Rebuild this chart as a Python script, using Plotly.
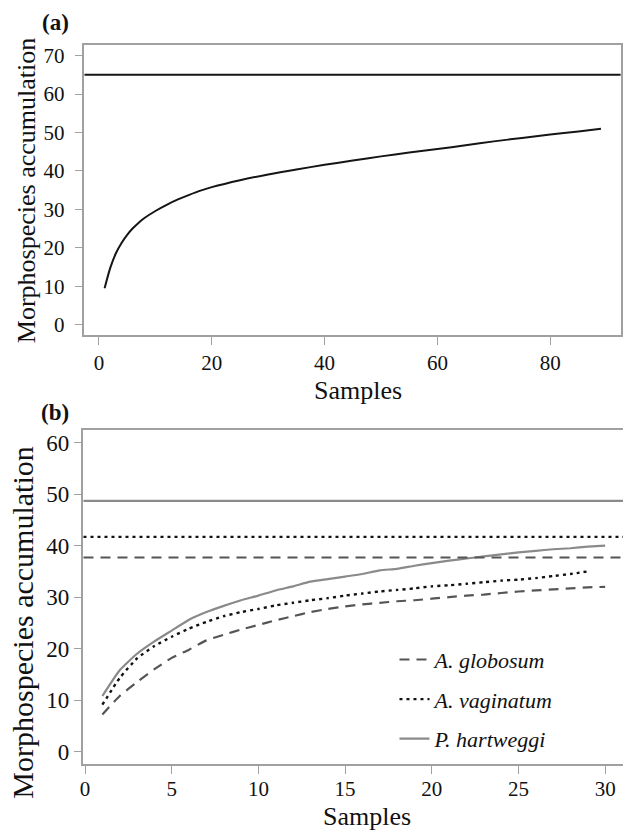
import plotly.graph_objects as go

# ---------------- data ----------------
# Panel (a): all samples
samples_a = [1, 2, 3, 4, 5, 6, 7, 8, 10, 12, 14, 16, 18, 20, 25, 30, 35, 40,
             45, 50, 55, 60, 65, 70, 75, 80, 85, 89]
accum_a = [9.5, 14.8, 18.6, 21.3, 23.4, 25.1, 26.5, 27.7, 29.6, 31.2, 32.6,
           33.8, 34.9, 35.8, 37.6, 39.1, 40.4, 41.6, 42.7, 43.8, 44.8, 45.7,
           46.7, 47.7, 48.6, 49.5, 50.3, 51.0]
asymptote_a = 65

# Panel (b): per host species
samples_b = list(range(1, 31))
globosum = [7.2, 10.8, 13.5, 16.0, 18.2, 19.8, 21.6, 22.7, 23.7, 24.6, 25.5,
            26.3, 27.1, 27.7, 28.2, 28.6, 28.9, 29.2, 29.4, 29.7, 30.0, 30.3,
            30.5, 30.8, 31.1, 31.3, 31.5, 31.7, 31.9, 32.0]
vaginatum = [9.1, 14.3, 18.1, 20.5, 22.3, 23.9, 25.2, 26.3, 27.1, 27.7, 28.4,
             28.9, 29.4, 29.8, 30.3, 30.7, 31.1, 31.4, 31.7, 32.1, 32.3, 32.6,
             32.9, 33.2, 33.4, 33.7, 34.1, 34.5, 35.0]
hartweggi = [10.8, 15.8, 19.0, 21.4, 23.5, 25.6, 27.1, 28.3, 29.4, 30.3, 31.3,
             32.1, 33.0, 33.5, 34.0, 34.5, 35.2, 35.5, 36.1, 36.6, 37.1, 37.5,
             37.9, 38.3, 38.7, 39.0, 39.3, 39.5, 39.8, 40.0]
asymptote_b = {"globosum": 37.7, "vaginatum": 41.7, "hartweggi": 48.7}

ticks_a_x = [0, 20, 40, 60, 80]
ticks_a_y = [0, 10, 20, 30, 40, 50, 60, 70]
ticks_b_x = [0, 5, 10, 15, 20, 25, 30]
ticks_b_y = [0, 10, 20, 30, 40, 50, 60]

# ---------------- styling ----------------
FONT = "Liberation Serif, Times New Roman, serif"
AXC = "#a0a0a0"
C_GLOB = "#555555"
C_VAG = "#111111"
C_HART = "#8a8a8a"
DASH = "10px,7px"
DOT = "3px,4px"

W, H = 623, 832
def px(x):
    return x / W
def py(y):
    return (H - y) / H

fig = go.Figure()

fig.add_trace(go.Scatter(x=samples_a, y=accum_a, mode="lines",
                         line=dict(color="#151515", width=2, shape="spline", smoothing=0.8),
                         xaxis="x", yaxis="y", showlegend=False, hoverinfo="skip"))

fig.add_trace(go.Scatter(x=samples_b, y=globosum, mode="lines", name="<i>A. globosum</i>",
                         legendgroup="g1",
                         line=dict(color=C_GLOB, width=2.2, dash=DASH, shape="spline", smoothing=0.5),
                         xaxis="x2", yaxis="y2"))
fig.add_trace(go.Scatter(x=samples_b[:len(vaginatum)], y=vaginatum, mode="lines",
                         name="<i>A. vaginatum</i>", legendgroup="g2",
                         line=dict(color=C_VAG, width=2.4, dash=DOT, shape="spline", smoothing=0.5),
                         xaxis="x2", yaxis="y2"))
fig.add_trace(go.Scatter(x=samples_b, y=hartweggi, mode="lines", name="<i>P. hartweggi</i>",
                         legendgroup="g3",
                         line=dict(color=C_HART, width=2.2, shape="spline", smoothing=0.5),
                         xaxis="x2", yaxis="y2"))

shapes = [
    dict(type="line", xref="x domain", yref="y", x0=0, x1=1,
         y0=asymptote_a, y1=asymptote_a, line=dict(color="#151515", width=2)),
    dict(type="line", xref="x2 domain", yref="y2", x0=0, x1=1,
         y0=asymptote_b["hartweggi"], y1=asymptote_b["hartweggi"],
         line=dict(color=C_HART, width=2.2)),
    dict(type="line", xref="x2 domain", yref="y2", x0=0, x1=1,
         y0=asymptote_b["vaginatum"], y1=asymptote_b["vaginatum"],
         line=dict(color=C_VAG, width=2.4, dash=DOT)),
    dict(type="line", xref="x2 domain", yref="y2", x0=0, x1=1,
         y0=asymptote_b["globosum"], y1=asymptote_b["globosum"],
         line=dict(color=C_GLOB, width=2.2, dash=DASH)),
]

def axis(**kw):
    base = dict(showline=True, linecolor=AXC, linewidth=1.5, ticks="outside",
                ticklen=8, tickcolor=AXC, tickwidth=1.2, showgrid=False,
                zeroline=False, tickfont=dict(family=FONT, size=21, color="#111"))
    base.update(kw)
    return base

ann_font = dict(family=FONT, size=26, color="#111")
annotations = [
    dict(text="<b>(a)</b>", x=px(36), y=py(22), xref="paper", yref="paper",
         xanchor="left", yanchor="middle", showarrow=False,
         font=dict(family=FONT, size=23, color="#111")),
    dict(text="<b>(b)</b>", x=px(35), y=py(413), xref="paper", yref="paper",
         xanchor="left", yanchor="middle", showarrow=False,
         font=dict(family=FONT, size=23, color="#111")),
    dict(text="Morphospecies accumulation", x=px(22), y=py(190), xref="paper", yref="paper",
         xanchor="center", yanchor="middle", textangle=-90, showarrow=False, font=ann_font),
    dict(text="Morphospecies accumulation", x=px(19), y=py(624), xref="paper", yref="paper",
         xanchor="center", yanchor="middle", textangle=-90, showarrow=False,
         font=dict(family=FONT, size=30, color="#111")),
    dict(text="Samples", x=px(356), y=py(391), xref="paper", yref="paper",
         xanchor="center", yanchor="middle", showarrow=False, font=ann_font),
    dict(text="Samples", x=px(365), y=py(818), xref="paper", yref="paper",
         xanchor="center", yanchor="middle", showarrow=False, font=ann_font),
]

fig.update_layout(
    width=W, height=H, margin=dict(l=0, r=0, t=0, b=0),
    paper_bgcolor="white", plot_bgcolor="white",
    font=dict(family=FONT, color="#111"),
    xaxis=axis(domain=[px(81), px(620.6)], range=[-2.57, 92.48], tickvals=ticks_a_x,
               mirror=True, anchor="y"),
    yaxis=axis(domain=[py(335), py(44)], range=[-2.59, 72.8], tickvals=ticks_a_y,
               mirror=True, anchor="x", ticklabelstandoff=6),
    xaxis2=axis(domain=[px(80), 1.0], range=[-0.09, 31.03], tickvals=ticks_b_x,
                mirror=True, anchor="y2", ticklabelstandoff=-3),
    yaxis2=axis(domain=[py(766), py(431)], range=[-2.46, 62.38], tickvals=ticks_b_y,
                mirror=False, anchor="x2", tickfont=dict(family=FONT, size=23, color="#111")),
    shapes=shapes, annotations=annotations,
    showlegend=True,
    legend=dict(x=px(393), y=py(640), xanchor="left", yanchor="top",
                bgcolor="rgba(0,0,0,0)", borderwidth=0, tracegroupgap=8,
                font=dict(family=FONT, size=22, color="#111")),
)

fig.write_html("out.html",
               config={"displayModeBar": False},
               post_script="document.body.style.margin='0';"
                           "document.documentElement.style.overflow='hidden';")
